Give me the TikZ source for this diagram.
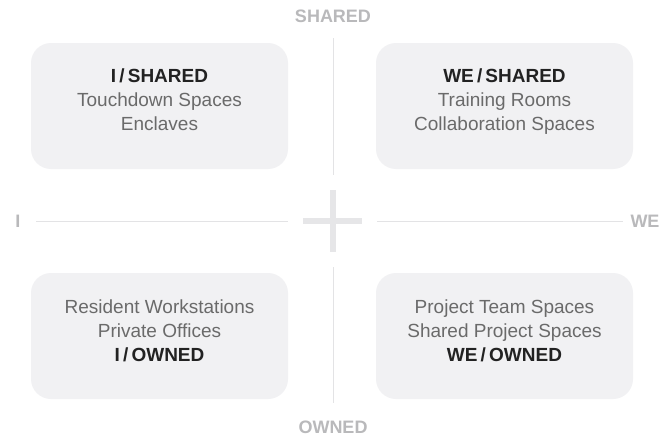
\documentclass[tikz,border=0pt]{standalone}
\usepackage{fontspec}
\setmainfont{Liberation Sans}
\definecolor{boxfill}{HTML}{F1F1F3}
\definecolor{axisline}{HTML}{E3E3E5}
\definecolor{plusc}{HTML}{E6E6E8}
\definecolor{titlec}{HTML}{222222}
\definecolor{bodyc}{HTML}{6A6A6A}
\definecolor{axislab}{HTML}{B9B9BB}
\tikzset{
  quad/.style={draw=none, fill=boxfill, rounded corners=20pt, minimum width=257pt, minimum height=126pt, inner sep=0pt},
  qline/.style={anchor=base, font=\fontsize{19}{24}\selectfont, text=bodyc, inner sep=0pt},
  qtitle/.style={qline, font=\fontsize{19}{24}\selectfont\bfseries, text=titlec},
  axislabel/.style={anchor=base, font=\fontsize{18}{20}\selectfont\bfseries, text=axislab, inner sep=0pt},
  axis/.style={draw=axisline, line width=1pt},
  plusbar/.style={draw=plusc, line width=6.5pt}
}
\begin{document}
\begin{tikzpicture}[x=1pt,y=-1pt]
\useasboundingbox[fill=white] (0,0) rectangle (665,439);
% quadrant boxes
\node[quad] (tl) at (159.5,106) {};
\node[quad] (tr) at (504.5,106) {};
\node[quad] (bl) at (159.5,336) {};
\node[quad] (br) at (504.5,336) {};
% texts: top-left
\node[qtitle] (tl1) at (159.5,82) {I\,/\,SHARED};
\node[qline] (tl2) at (159.5,106) {Touchdown Spaces};
\node[qline] (tl3) at (159.5,130) {Enclaves};
% top-right
\node[qtitle] (tr1) at (504.5,82) {WE\,/\,SHARED};
\node[qline] (tr2) at (504.5,106) {Training Rooms};
\node[qline] (tr3) at (504.5,130) {Collaboration Spaces};
% bottom-left
\node[qline] (bl1) at (159.5,313) {Resident Workstations};
\node[qline] (bl2) at (159.5,337) {Private Offices};
\node[qtitle] (bl3) at (159.5,361) {I\,/\,OWNED};
% bottom-right
\node[qline] (br1) at (504.5,313) {Project Team Spaces};
\node[qline] (br2) at (504.5,337) {Shared Project Spaces};
\node[qtitle] (br3) at (504.5,361) {WE\,/\,OWNED};
% axis labels
\node[axislabel] (shared) at (333,23) {SHARED};
\node[axislabel] (owned) at (333,433) {OWNED};
\node[axislabel] (ilab) at (18,227) {I};
\node[axislabel] (welab) at (645,227) {WE};
% axis lines
\coordinate (vt1) at (333,38);
\coordinate (vt2) at (333,175);
\coordinate (vb1) at (333,267);
\coordinate (vb2) at (333,403);
\coordinate (hl1) at (36,221);
\coordinate (hl2) at (288,221);
\coordinate (hr1) at (377,221);
\coordinate (hr2) at (623,221);
\draw[axis] (vt1) -- (vt2);
\draw[axis] (vb1) -- (vb2);
\draw[axis] (hl1) -- (hl2);
\draw[axis] (hr1) -- (hr2);
% plus sign
\coordinate (pt) at (333,190);
\coordinate (pb) at (333,252);
\coordinate (pl) at (303,221);
\coordinate (pr) at (362,221);
\draw[plusbar] (pt) -- (pb);
\draw[plusbar] (pl) -- (pr);
\end{tikzpicture}
\end{document}
